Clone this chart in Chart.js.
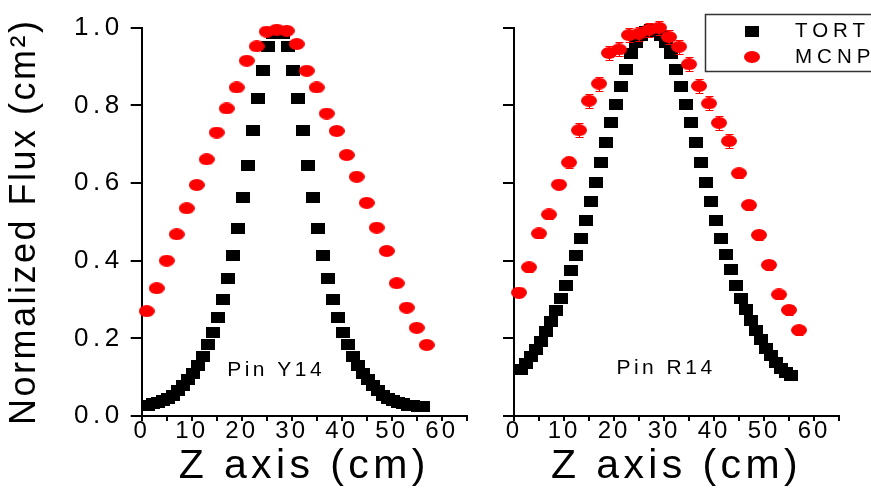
<!DOCTYPE html>
<html>
<head>
<meta charset="utf-8">
<script src="https://cdn.jsdelivr.net/npm/chart.js@4.4.1/dist/chart.umd.min.js"></script>
<style>
html,body{margin:0;padding:0;background:#fff;width:871px;height:488px;overflow:hidden;position:relative}
canvas{position:absolute;top:0}
#cY14{left:0}
#cR14{left:480px}
</style>
</head>
<body>
<canvas id="cY14" width="480" height="488"></canvas>
<canvas id="cR14" width="391" height="488"></canvas>
<script>
// ---------------- data ----------------
const seriesNames = ['TORT', 'MCNP'];
const panelNames = ['Pin Y14', 'Pin R14'];
const xTickLabels = ['0', '10', '20', '30', '40', '50', '60'];
const yTickLabels = ['0.0', '0.2', '0.4', '0.6', '0.8', '1.0'];

// Pin Y14 - TORT
const tortZ_Y14 = [1.3,2.3,3.3,4.3,5.3,6.3,7.3,8.3,9.3,10.3,11.3,12.3,13.3,14.3,15.3,16.3,17.3,18.3,19.3,20.3,
  21.3,22.3,23.3,24.3,25.3,26.3,27.3,28.3,29.3,30.3,31.3,32.3,33.3,34.3,35.3,36.3,37.3,38.3,39.3,40.3,
  41.3,42.3,43.3,44.3,45.3,46.3,47.3,48.3,49.3,50.3,51.3,52.3,53.3,54.3,55.3,56.3];
const tortF_Y14 = [0.028,0.031,0.034,0.039,0.046,0.054,0.065,0.078,0.093,0.110,0.131,0.154,0.183,0.215,0.254,0.300,0.354,0.414,0.483,0.562,
  0.646,0.736,0.818,0.891,0.952,0.985,0.990,0.985,0.952,0.891,0.818,0.736,0.646,0.562,0.483,0.414,0.354,0.300,0.254,0.215,
  0.183,0.154,0.131,0.110,0.093,0.078,0.065,0.054,0.046,0.039,0.034,0.031,0.028,0.026,0.025,0.024];
// Pin Y14 - MCNP
const mcnpZ_Y14 = [1,3,5,7,9,11,13,15,17,19,21,23,25,27,29,31,33,35,37,39,41,43,45,47,49,51,53,55,57];
const mcnpF_Y14 = [0.270,0.329,0.400,0.468,0.535,0.595,0.661,0.730,0.792,0.846,0.915,0.952,0.990,0.995,0.992,0.958,0.889,0.846,0.779,0.734,
  0.672,0.616,0.549,0.485,0.425,0.342,0.279,0.227,0.183];

// Pin R14 - TORT
const tortZ_R14 = [1.4,2.4,3.4,4.4,5.4,6.4,7.4,8.4,9.4,10.4,11.4,12.4,13.4,14.4,15.4,16.4,17.4,18.4,19.4,20.4,
  21.4,22.4,23.4,24.4,25.4,26.4,27.4,28.4,29.4,30.4,31.4,32.4,33.4,34.4,35.4,36.4,37.4,38.4,39.4,40.4,
  41.4,42.4,43.4,44.4,45.4,46.4,47.4,48.4,49.4,50.4,51.4,52.4,53.4,54.4,55.4];
const tortF_R14 = [0.120,0.136,0.153,0.172,0.193,0.217,0.243,0.271,0.303,0.335,0.374,0.414,0.458,0.503,0.552,0.601,0.653,0.704,0.756,0.803,
  0.849,0.892,0.934,0.961,0.980,0.990,0.995,0.990,0.980,0.961,0.934,0.892,0.849,0.803,0.756,0.704,0.653,0.601,0.552,0.503,
  0.457,0.416,0.376,0.337,0.303,0.273,0.245,0.219,0.196,0.174,0.155,0.138,0.123,0.112,0.105];
// Pin R14 - MCNP
const mcnpZ_R14 = [1,3,5,7,9,11,13,15,17,19,21,23,25,27,29,31,33,35,37,39,41,43,45,47,49,51,53,55,57];
const mcnpF_R14 = [0.318,0.383,0.470,0.519,0.596,0.653,0.736,0.812,0.856,0.935,0.944,0.981,0.985,0.995,1.000,0.976,0.951,0.906,0.850,0.805,
  0.755,0.708,0.625,0.543,0.466,0.389,0.313,0.273,0.221];
const mcnpErr_R14 = [0.012,0.012,0.012,0.012,0.012,0.015,0.018,0.018,0.018,0.018,0.018,0.018,0.018,0.018,0.018,0.018,0.018,0.018,0.018,0.018,
  0.018,0.018,0.012,0.012,0.012,0.012,0.012,0.012,0.012];

// ---------------- styling ----------------
const FONT = "'Liberation Sans', Arial, Helvetica, sans-serif";
Chart.defaults.font.family = FONT;
Chart.defaults.color = '#000';
const SPACING = {24: 3, 26: 4.5, 36: 2.5, 41: 4.4};

function patchCtx(ctx) {
  const orig = ctx.fillText;
  ctx.rawFillText = function (t, x, y) { return orig.call(this, t, x, y); };
  ctx.fillText = function (t, x, y) {
    const m = /(\d+(?:\.\d+)?)px/.exec(this.font);
    const size = m ? Math.round(parseFloat(m[1])) : 0;
    this.letterSpacing = (SPACING[size] || 0) + 'px';
    return orig.call(this, t, x, y);
  };
}

function makeImg(w, h, color, ellipse) {
  const c = document.createElement('canvas');
  c.width = w; c.height = h;
  const g = c.getContext('2d');
  g.fillStyle = color;
  if (ellipse) { g.beginPath(); g.ellipse(w / 2, h / 2, w / 2, h / 2, 0, 0, Math.PI * 2); g.fill(); }
  else g.fillRect(0, 0, w, h);
  return c;
}
const SQ = makeImg(14, 11, '#000000', false);
const EL = makeImg(16, 12, '#ff0000', true);

const extras = {
  id: 'extras',
  beforeDatasetDraw(chart, args) {
    const ds = chart.data.datasets[args.index];
    if (!ds.errors) return;
    const {ctx, scales: {x, y}} = chart;
    ctx.save();
    ctx.strokeStyle = '#ff0000';
    ctx.lineWidth = 1;
    ds.data.forEach((p, i) => {
      const e = ds.errors[i];
      const px = Math.round(x.getPixelForValue(p.x)) + 0.5;
      const y1 = Math.round(y.getPixelForValue(p.y + e)) + 0.5;
      const y2 = Math.round(y.getPixelForValue(p.y - e)) + 0.5;
      ctx.beginPath();
      ctx.moveTo(px, y1); ctx.lineTo(px, y2);
      ctx.moveTo(px - 4, y1); ctx.lineTo(px + 4, y1);
      ctx.moveTo(px - 4, y2); ctx.lineTo(px + 4, y2);
      ctx.stroke();
    });
    ctx.restore();
  },
  afterDraw(chart, args, opts) {
    const {ctx, scales: {x, y}} = chart;
    ctx.save();
    ctx.fillStyle = '#000';
    ctx.textBaseline = 'middle';
    if (opts.pin) {
      ctx.font = '21px ' + FONT;
      ctx.letterSpacing = '3.5px';
      ctx.textAlign = 'center';
      ctx.rawFillText(opts.pin, x.getPixelForValue(opts.pinAt[0]), y.getPixelForValue(opts.pinAt[1]));
    }
    if (opts.legend) {
      const off = chart.canvas.offsetLeft;
      ctx.strokeStyle = '#333';
      ctx.lineWidth = 1.5;
      ctx.strokeRect(705.5 - off, 14.5, 300, 57);
      ctx.drawImage(SQ, 752 - off - 7, 31 - 5.5);
      ctx.drawImage(EL, 752 - off - 8, 57 - 6);
      ctx.font = '20.5px ' + FONT;
      ctx.letterSpacing = '5px';
      ctx.textAlign = 'left';
      ctx.rawFillText(seriesNames[0], 795 - off, 31);
      ctx.rawFillText(seriesNames[1], 795 - off, 57);
    }
    ctx.letterSpacing = '0px';
    ctx.restore();
  }
};

function makeScales(withYLabels, yAxisWidth) {
  return {
    x: {
      type: 'linear', min: 0, max: 65,
      ticks: {
        stepSize: 5, autoSkip: false, maxRotation: 0, minRotation: 0,
        font: {size: 24, lineHeight: 0.9}, color: '#000', padding: 0,
        callback: v => (v % 10 === 0 && v <= 60) ? xTickLabels[v / 10] : ''
      },
      grid: {display: true, drawOnChartArea: false, drawTicks: true, tickLength: 5, color: '#000', lineWidth: 2},
      border: {display: true, color: '#000', width: 2},
      title: {display: true, text: 'Z axis (cm)', color: '#000', font: {size: 41, lineHeight: 1}, padding: {top: 0, bottom: 1.2}},
      afterFit: s => { s.height = 72; }
    },
    y: {
      type: 'linear', min: 0, max: 1,
      ticks: {
        stepSize: 0.2, font: {size: 26, lineHeight: 1.2}, color: '#000', padding: 7,
        callback: v => withYLabels ? yTickLabels[Math.round(v * 5)] : ''
      },
      grid: {display: true, drawOnChartArea: false, drawTicks: true, tickLength: 11, color: '#000', lineWidth: 2},
      border: {display: true, color: '#000', width: 2},
      title: {display: withYLabels, text: 'Normalized Flux (cm\u00B2)', color: '#000', font: {size: 36, lineHeight: 1}, padding: {top: 7, bottom: 0}},
      afterFit: s => { s.width = yAxisWidth; }
    }
  };
}

function pts(xs, ys) { return xs.map((v, i) => ({x: v, y: ys[i]})); }

function build(id, tz, tf, mz, mf, merr, opts) {
  const canvas = document.getElementById(id);
  patchCtx(canvas.getContext('2d'));
  const mcnp = {label: seriesNames[1], data: pts(mz, mf), pointStyle: EL, pointRadius: 7, clip: false, order: 0,
    backgroundColor: '#ff0000', borderColor: '#ff0000'};
  if (merr) mcnp.errors = merr;
  return new Chart(canvas, {
    type: 'scatter',
    data: {
      datasets: [
        {label: seriesNames[0], data: pts(tz, tf), pointStyle: SQ, pointRadius: 7, clip: false, order: 1,
          backgroundColor: '#000', borderColor: '#000'},
        mcnp
      ]
    },
    options: {
      responsive: false, animation: false, events: [],
      layout: {padding: opts.padding},
      plugins: {legend: {display: false}, tooltip: {enabled: false}, extras: opts.extras},
      scales: makeScales(opts.yLabels, opts.yWidth)
    },
    plugins: [extras]
  });
}

build('cY14', tortZ_Y14, tortF_Y14, mcnpZ_Y14, mcnpF_Y14, null, {
  padding: {left: 0, top: 27.7, right: 13.3, bottom: 0}, yLabels: true, yWidth: 141.7,
  extras: {pin: panelNames[0], pinAt: [26.9, 0.118], legend: false}
});
build('cR14', tortZ_R14, tortF_R14, mcnpZ_R14, mcnpF_R14, mcnpErr_R14, {
  padding: {left: 0, top: 27.7, right: 32, bottom: 0}, yLabels: false, yWidth: 34,
  extras: {pin: panelNames[1], pinAt: [30.4, 0.124], legend: true}
});
</script>
</body>
</html>
